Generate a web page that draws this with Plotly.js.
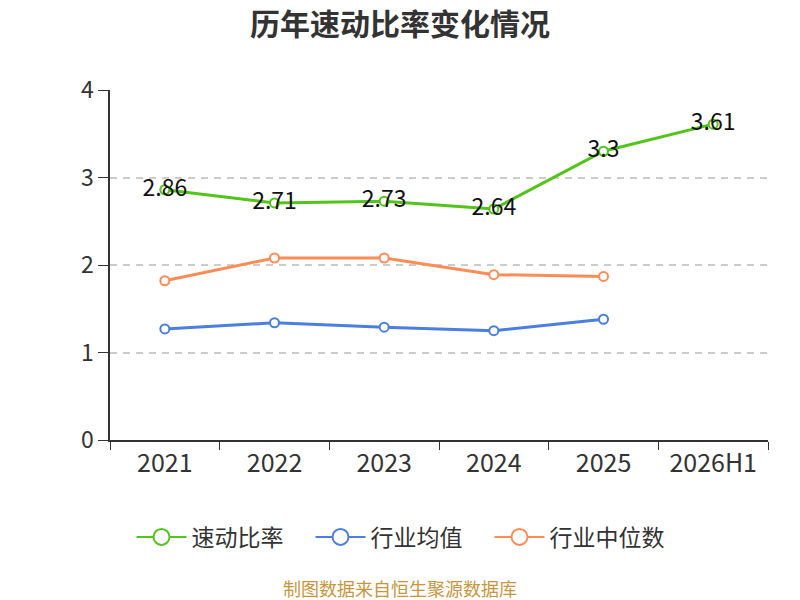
<!DOCTYPE html>
<html>
<head>
<meta charset="utf-8">
<script src="https://cdn.plot.ly/plotly-3.0.1.min.js"></script>
<style>
  html, body { margin: 0; padding: 0; background: #fff; }
  #chart { width: 800px; height: 600px; }
</style>
</head>
<body>
<div id="chart"></div>
<script>
// categories and values
var years = ['2021', '2022', '2023', '2024', '2025', '2026H1'];
var quickRatio = [2.86, 2.71, 2.73, 2.64, 3.3, 3.61];
var industryMean = [1.27, 1.34, 1.29, 1.25, 1.38];
var industryMedian = [1.82, 2.08, 2.08, 1.89, 1.87];

var names = ['速动比率', '行业均值', '行业中位数'];
var colors = ['#52c41a', '#4a7fe0', '#ff8c55'];

var font = '"Noto Sans CJK SC", "Noto Sans", sans-serif';
var pageMid = (400 - 110) / 658; // page centre in paper coords

function lineTrace(i, y) {
    return {
        x: years.slice(0, y.length),
        y: y,
        name: names[i],
        type: 'scatter',
        mode: 'lines+markers',
        line: {color: colors[i], width: 3},
        marker: {color: '#ffffff', size: 9, line: {color: colors[i], width: 2}},
        showlegend: false,
        hoverinfo: 'skip'
    };
}

// legend only entries, bigger symbols than on the plot
function legendTrace(i) {
    return {
        x: [null],
        y: [null],
        name: names[i],
        type: 'scatter',
        mode: 'lines+markers',
        line: {color: colors[i], width: 2},
        marker: {color: '#ffffff', size: 20, line: {color: colors[i], width: 2}},
        hoverinfo: 'skip'
    };
}

var trace0 = lineTrace(0, quickRatio);
trace0.mode = 'lines+markers+text';
trace0.text = quickRatio.map(String);
trace0.textposition = 'middle center';
trace0.textfont = {family: font, size: 23, color: '#111111'};

var trace1 = lineTrace(1, industryMean);
var trace2 = lineTrace(2, industryMedian);

var layout = {
    width: 800,
    height: 600,
    margin: {t: 90, r: 32, l: 110, b: 160},
    paper_bgcolor: '#ffffff',
    plot_bgcolor: '#ffffff',
    font: {family: font, color: '#333333'},
    title: {
        text: '<b>历年速动比率变化情况</b>',
        font: {family: font, size: 30, color: '#333333'},
        x: 0.5, xanchor: 'center',
        y: 0.96, yanchor: 'middle'
    },
    xaxis: {
        type: 'category',
        range: [-0.5, 5.5],
        tickson: 'boundaries',
        ticks: 'outside',
        ticklen: 8,
        tickcolor: '#333333',
        showline: true,
        linecolor: '#333333',
        linewidth: 1.5,
        showgrid: false,
        tickfont: {family: font, size: 25, color: '#333333'}
    },
    yaxis: {
        range: [0, 4],
        dtick: 1,
        ticks: 'outside',
        ticklen: 10,
        tickcolor: '#333333',
        showline: true,
        linecolor: '#333333',
        linewidth: 1.5,
        showgrid: true,
        gridcolor: '#cccccc',
        griddash: '7px,6px',
        gridwidth: 1.5,
        zeroline: false,
        tickfont: {family: font, size: 23, color: '#333333'}
    },
    showlegend: true,
    legend: {
        orientation: 'h',
        x: pageMid, xanchor: 'center',
        y: -0.277, yanchor: 'middle',
        font: {family: font, size: 23, color: '#333333'},
        itemwidth: 50,
        entrywidth: 114,
        entrywidthmode: 'pixels'
    },
    annotations: [{
        text: '制图数据来自恒生聚源数据库',
        xref: 'paper', yref: 'paper',
        x: pageMid, xanchor: 'center',
        y: -0.423, yanchor: 'middle',
        showarrow: false,
        font: {family: font, size: 18, color: '#c8963c'}
    }]
};

var data = [trace0, trace1, trace2, legendTrace(0), legendTrace(1), legendTrace(2)];
Plotly.newPlot('chart', data, layout, {displayModeBar: false, responsive: false});
</script>
</body>
</html>
